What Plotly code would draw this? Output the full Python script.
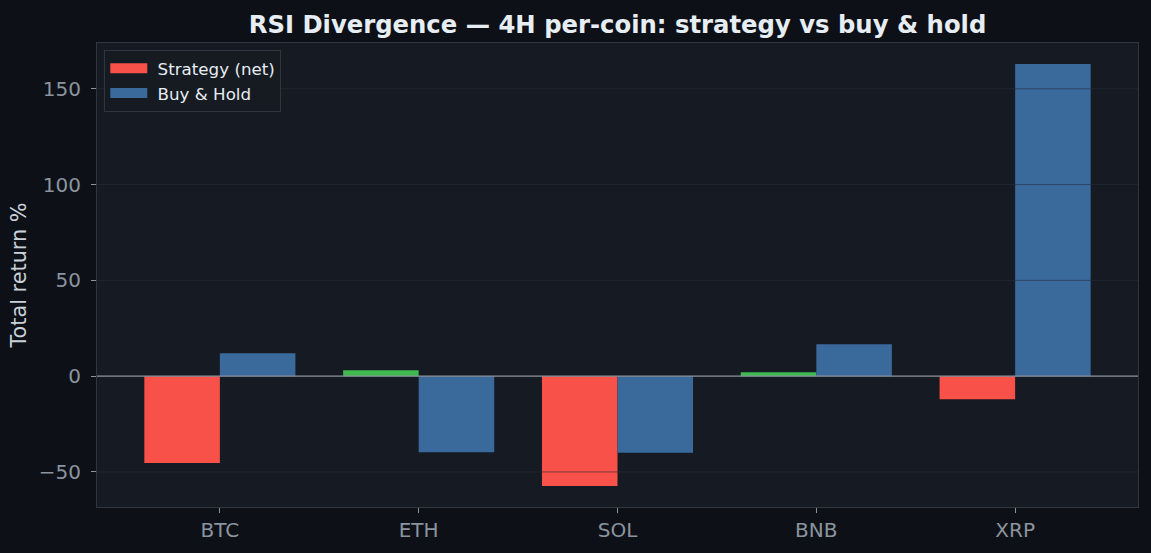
import plotly.graph_objects as go

coins = ["BTC", "ETH", "SOL", "BNB", "XRP"]
strategy_net = [-45.3, 3.1, -57.3, 2.1, -12.0]
buy_hold = [12.0, -39.7, -40.0, 16.7, 162.9]
y_ticks = [-50, 0, 50, 100, 150]

RED = "#f85149"
GREEN = "#3fb950"
BLUE = "#3a699c"
BG = "#0d1117"
PLOT_BG = "#161a22"
FRAME = "#30363d"
MUTED = "#8b949e"
TEXT = "#e6edf3"

strat_colors = [RED if v < 0 else GREEN for v in strategy_net]

fig = go.Figure()
fig.add_trace(go.Bar(x=coins, y=strategy_net, name="Strategy (net)", showlegend=False,
                     marker=dict(color=strat_colors, line=dict(width=0))))
fig.add_trace(go.Bar(x=coins, y=buy_hold, name="Buy & Hold", showlegend=False,
                     marker=dict(color=BLUE, line=dict(width=0))))
# legend swatches (wide rectangles, like the reference)
fig.add_trace(go.Scatter(x=[None], y=[None], mode="lines", name="\u00a0Strategy (net)",
                         line=dict(color=RED, width=12)))
fig.add_trace(go.Scatter(x=[None], y=[None], mode="lines", name="\u00a0Buy & Hold",
                         line=dict(color=BLUE, width=12)))

shapes = []
for t in y_ticks:
    if t == 0:
        continue
    shapes.append(dict(type="line", xref="paper", x0=0, x1=1, yref="y", y0=t, y1=t,
                       line=dict(color="rgba(40,46,56,0.6)", width=1), layer="above"))
shapes.append(dict(type="line", xref="paper", x0=0, x1=1, yref="y", y0=0, y1=0,
                   line=dict(color=MUTED, width=1.3), layer="above"))

fig.update_layout(
    width=1151, height=553,
    paper_bgcolor=BG, plot_bgcolor=PLOT_BG,
    font=dict(family="DejaVu Sans", color=MUTED),
    title=dict(text="<b>RSI Divergence — 4H per-coin: strategy vs buy & hold</b>",
               xref="paper", x=0.5, xanchor="center",
               yref="container", y=0.956, yanchor="middle",
               font=dict(size=24.3, color=TEXT, family="DejaVu Sans")),
    margin=dict(l=97, r=13, t=43, b=46),
    barmode="group", bargap=0.24, bargroupgap=0,
    shapes=shapes,
    showlegend=True,
    legend=dict(x=0.007, y=0.985, xanchor="left", yanchor="top",
                bgcolor="#161b22", bordercolor=FRAME, borderwidth=1,
                font=dict(size=16.7, color=TEXT, family="DejaVu Sans"),
                itemwidth=37),
    xaxis=dict(range=[-0.618, 4.618], showgrid=False, zeroline=False,
               showline=True, mirror=True, linecolor=FRAME, linewidth=1,
               ticks="outside", ticklen=5, tickcolor=MUTED,
               tickfont=dict(size=20, color=MUTED)),
    yaxis=dict(range=[-68.3, 173.9], tickvals=y_ticks, showgrid=False, zeroline=False,
               showline=True, mirror=True, linecolor=FRAME, linewidth=1,
               ticks="outside", ticklen=5, tickcolor=MUTED, ticklabelstandoff=6,
               tickfont=dict(size=20, color=MUTED),
               title=dict(text="Total return %", font=dict(size=20.8, color="#c9d1d9"),
                          standoff=6)),
)

fig.write_html("out.html", config={"displayModeBar": False},
               post_script="document.body.style.margin='0';")
